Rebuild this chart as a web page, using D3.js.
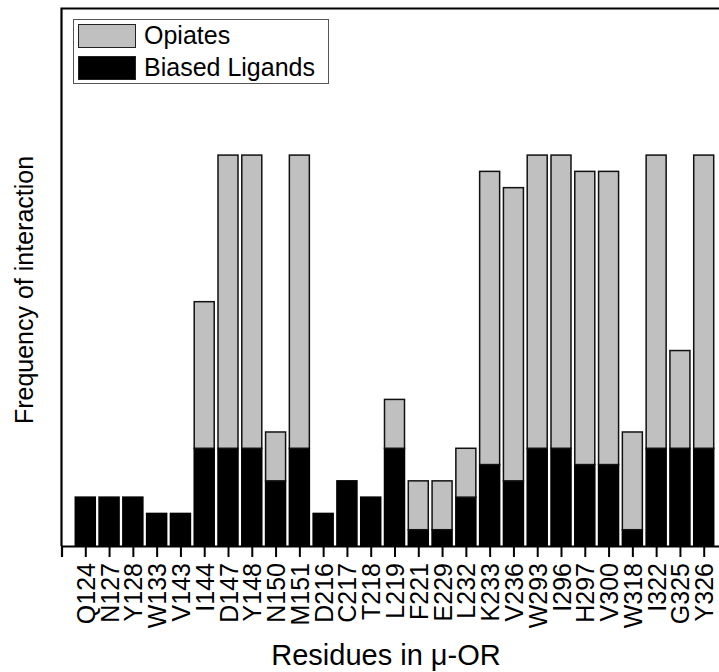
<!DOCTYPE html>
<html>
<head>
<meta charset="utf-8">
<script src="https://cdn.jsdelivr.net/npm/d3@7"></script>
<style>
    body { margin: 0; background: #fff; }
    text { font-family: "Liberation Sans", Arial, sans-serif; fill: #000; }
</style>
</head>
<body>
<div id="chart"></div>
<script>
// residues on the x axis
const residues = ["Q124","N127","Y128","W133","V143","I144","D147","Y148","N150","M151","D216","C217","T218","L219","F221","E229","L232","K233","V236","W293","I296","H297","V300","W318","I322","G325","Y326"]
// stacked counts (bottom: biased ligands, top: opiates)
const biased  = [3,3,3,2,2,6,6,6,4,6,2,4,3,6,1,1,3,5,4,6,6,5,5,1,6,6,6]
const opiates = [0,0,0,0,0,9,18,18,3,18,0,0,0,3,3,3,3,18,18,18,18,18,18,6,18,6,18]
const legendItems = [{"title":"Opiates", "color":"#c0c0c0"},{"title":"Biased Ligands", "color":"#000000"}]

const width = 719, height = 672

const svg = d3.select("#chart").append("svg")
    .attr("width", width)
    .attr("height", height)

const xScale = d3.scaleLinear()
    .domain([0, residues.length + 1])
    .range([61.5, 727.5])

const yScale = d3.scaleLinear()
    .domain([0, 33])
    .range([546, 8.5])

const data = residues.map((r, i) => ({residue: r, pos: i + 1, biased: biased[i], opiates: opiates[i]}))
const barW = 20

// black part
svg.selectAll(".biased").data(data)
    .join("rect")
    .attr("class", "biased")
    .attr("x", d => xScale(d.pos) - barW/2)
    .attr("y", d => yScale(d.biased))
    .attr("width", barW)
    .attr("height", d => yScale(0) - yScale(d.biased))
    .attr("fill", "#000")
    .attr("stroke", "#000")
    .attr("stroke-width", 1.5)

// grey part stacked on top
svg.selectAll(".opiates").data(data.filter(d => d.opiates > 0))
    .join("rect")
    .attr("class", "opiates")
    .attr("x", d => xScale(d.pos) - barW/2)
    .attr("y", d => yScale(d.biased + d.opiates))
    .attr("width", barW)
    .attr("height", d => yScale(d.biased) - yScale(d.biased + d.opiates))
    .attr("fill", "#c0c0c0")
    .attr("stroke", "#111")
    .attr("stroke-width", 1.5)

// frame
svg.append("path")
    .attr("d", `M${xScale(0)},${yScale(0)} V${yScale(33)} H${xScale(residues.length + 1)}`)
    .attr("fill", "none")
    .attr("stroke", "#000")
    .attr("stroke-width", 2.2)

// x axis
const xAxis = d3.axisBottom(xScale)
    .tickValues(d3.range(0, residues.length + 1))
    .tickSize(11)
    .tickFormat(d => d === 0 ? "" : residues[d - 1])

const gx = svg.append("g")
    .attr("transform", `translate(0, ${yScale(0)})`)
    .call(xAxis)
gx.select(".domain").attr("stroke-width", 2.2)
gx.selectAll(".tick line").attr("stroke-width", 2)
gx.selectAll(".tick text")
    .attr("font-size", 25)
    .attr("font-family", "Liberation Sans, Arial, sans-serif")
    .attr("text-anchor", "end")
    .attr("transform", "rotate(-90)")
    .attr("x", -17)
    .attr("y", 0)
    .attr("dy", "0.36em")

// axis titles
svg.append("text")
    .attr("text-anchor", "middle")
    .attr("x", 386)
    .attr("y", 665)
    .attr("font-size", 29)
    .text("Residues in \u03bc-OR")

svg.append("text")
    .attr("text-anchor", "middle")
    .attr("transform", "translate(33, 290) rotate(-90)")
    .attr("font-size", 25)
    .text("Frequency of interaction")

// legend
svg.append("rect")
    .attr("x", 73.5)
    .attr("y", 19.5)
    .attr("width", 255)
    .attr("height", 64)
    .attr("fill", "#fff")
    .attr("stroke", "#555")
    .attr("stroke-width", 1)

svg.selectAll(".legdot").data(legendItems)
    .join("rect")
    .attr("class", "legdot")
    .attr("x", 78.5)
    .attr("y", (d, i) => 24.5 + i * 32)
    .attr("width", 57)
    .attr("height", 23)
    .attr("fill", d => d.color)
    .attr("stroke", "#222")
    .attr("stroke-width", 1)

svg.selectAll(".leglabel").data(legendItems)
    .join("text")
    .attr("class", "leglabel")
    .attr("x", 144)
    .attr("y", (d, i) => 44 + i * 32)
    .attr("font-size", 25)
    .text(d => d.title)
</script>
</body>
</html>
